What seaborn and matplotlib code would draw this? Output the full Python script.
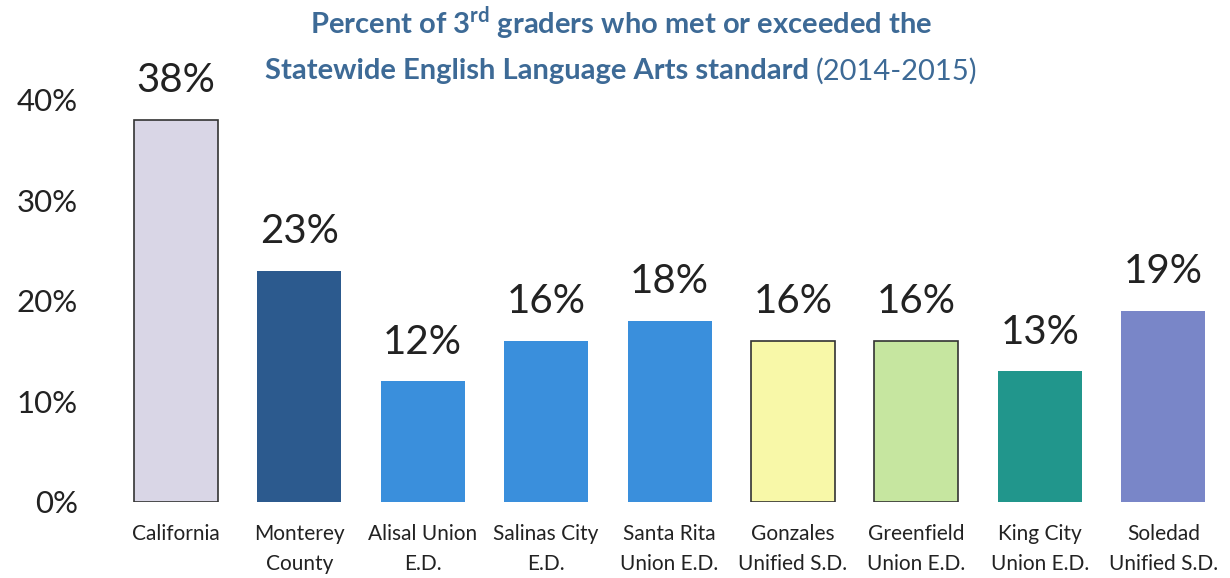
import matplotlib
matplotlib.use("Agg")
import matplotlib.pyplot as plt
import seaborn as sns
import pandas as pd

# chart values
districts = ["California", "Monterey\nCounty", "Alisal Union\nE.D.", "Salinas City\nE.D.",
             "Santa Rita\nUnion E.D.", "Gonzales\nUnified S.D.", "Greenfield\nUnion E.D.",
             "King City\nUnion E.D.", "Soledad\nUnified S.D."]
pct_met = [38, 23, 12, 16, 18, 16, 16, 13, 19]
bar_colors = ["#d9d6e6", "#2c5a8e", "#3a8fdc", "#3a8fdc", "#3a8fdc",
              "#f8f8a8", "#c6e6a0", "#21968c", "#7986c8"]
edged = ["California", "Gonzales\nUnified S.D.", "Greenfield\nUnion E.D."]

df = pd.DataFrame({"district": districts, "pct": pct_met})

sns.set_theme(style="white")
plt.rcParams["font.family"] = ["Lato", "DejaVu Sans"]
plt.rcParams["mathtext.fontset"] = "custom"
plt.rcParams["mathtext.bf"] = "Lato:bold"
plt.rcParams["mathtext.rm"] = "Lato:bold"

fig = plt.figure(figsize=(12.3, 5.78), dpi=100)
ax = fig.add_axes([0.0927, 0.1315, 0.9033, 0.6955])

sns.barplot(data=df, x="district", y="pct", hue="district", palette=bar_colors,
            legend=False, width=0.68, ax=ax, saturation=1)

for patch, name in zip(ax.patches, districts):
    if name in edged:
        patch.set_edgecolor("#333333")
        patch.set_linewidth(1.2)
    else:
        patch.set_edgecolor("none")

for patch, v in zip(ax.patches, pct_met):
    ax.annotate(f"{v}%", (patch.get_x() + patch.get_width() / 2, v),
                xytext=(0, 15), textcoords="offset points",
                ha="center", va="bottom", fontsize=29, color="#222222",
                annotation_clip=False)

ax.set_ylim(0, 40)
ax.set_xlim(-0.5, len(districts) - 0.5)
ax.set_yticks([0, 10, 20, 30, 40])
ax.set_yticklabels([f"{t}%" for t in [0, 10, 20, 30, 40]], fontsize=22.5, color="#222222")
ax.tick_params(axis="y", pad=26, length=0)
ax.tick_params(axis="x", labelsize=15, length=0, pad=16, colors="#222222")
for lbl in ax.get_xticklabels():
    lbl.set_linespacing(1.6)
ax.set_xlabel("")
ax.set_ylabel("")
sns.despine(ax=ax, left=True, bottom=True)

title_color = "#3d6a96"
title_x = 0.505
fig.text(title_x, 0.96, "Percent of 3$^{\\mathbf{rd}}$ graders who met or exceeded the",
         ha="center", va="center", fontsize=21, fontweight="bold", color=title_color)

# second title line: bold part followed by regular year range
fig.canvas.draw()
renderer = fig.canvas.get_renderer()
part1 = fig.text(0, 0.877, "Statewide English Language Arts standard ",
                 ha="left", va="center", fontsize=21, fontweight="bold", color=title_color)
part2 = fig.text(0, 0.877, "(2014-2015)", ha="left", va="center", fontsize=21,
                 color=title_color)
w1 = part1.get_window_extent(renderer).width
w2 = part2.get_window_extent(renderer).width
total = (w1 + w2) / fig.bbox.width
x0 = title_x - total / 2
part1.set_x(x0)
part2.set_x(x0 + w1 / fig.bbox.width)

fig.savefig("out.png", dpi=100)
